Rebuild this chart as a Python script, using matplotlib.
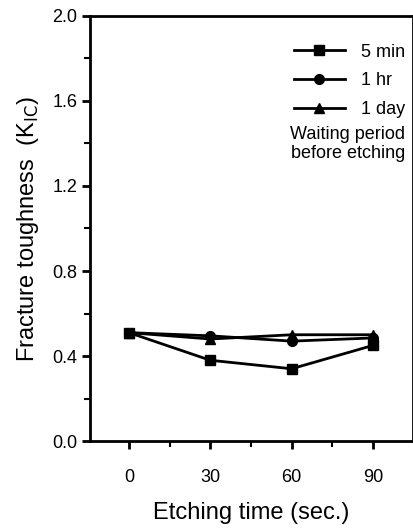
import numpy as np
import matplotlib.pyplot as plt
from matplotlib.ticker import MultipleLocator

# data
etch_time = [0, 30, 60, 90]
k_5min = [0.51, 0.38, 0.34, 0.45]
k_1hr = [0.51, 0.495, 0.47, 0.485]
k_1day = [0.51, 0.48, 0.50, 0.50]
labels = ['5 min', '1 hr', '1 day']

plt.rcParams['font.family'] = ['Liberation Sans', 'DejaVu Sans']

fig = plt.figure(figsize=(4.14, 5.32), dpi=100)
ax = fig.add_axes([0.217, 0.171, 0.781, 0.799])

kw = dict(color='black', lw=2, ms=7)
ax.plot(etch_time, k_5min, marker='s', label=labels[0], **kw)
ax.plot(etch_time, k_1hr, marker='o', label=labels[1], **kw)
ax.plot(etch_time, k_1day, marker='^', label=labels[2], **kw)

ax.set_xlim(-14.4, 104.8)
ax.set_ylim(0.0, 2.0)
ax.set_xticks(etch_time)
ax.xaxis.set_minor_locator(MultipleLocator(15))
ax.yaxis.set_major_locator(MultipleLocator(0.4))
ax.yaxis.set_minor_locator(MultipleLocator(0.2))
ax.yaxis.set_major_formatter(plt.FormatStrFormatter('%.1f'))

for s in ax.spines.values():
    s.set_linewidth(2)
ax.tick_params(which='major', length=6, width=2, labelsize=13)
ax.tick_params(which='minor', length=4, width=1.5)
ax.tick_params(axis='x', pad=14)
ax.tick_params(axis='y', pad=3)

ax.set_xlabel('Etching time (sec.)', fontsize=17, labelpad=12)
ax.set_ylabel('Fracture toughness  (K$_{\\mathrm{IC}}$)', fontsize=17, labelpad=8)

leg = ax.legend(loc='upper right', bbox_to_anchor=(0.975, 0.935), frameon=False,
                fontsize=13, handlelength=2.8, handletextpad=0.9, labelspacing=0.65,
                borderpad=0, borderaxespad=0)
ax.text(0.975, 0.74, 'Waiting period\nbefore etching', transform=ax.transAxes,
        ha='right', va='top', fontsize=13, linespacing=1.15)

fig.savefig('out.png', dpi=100)
